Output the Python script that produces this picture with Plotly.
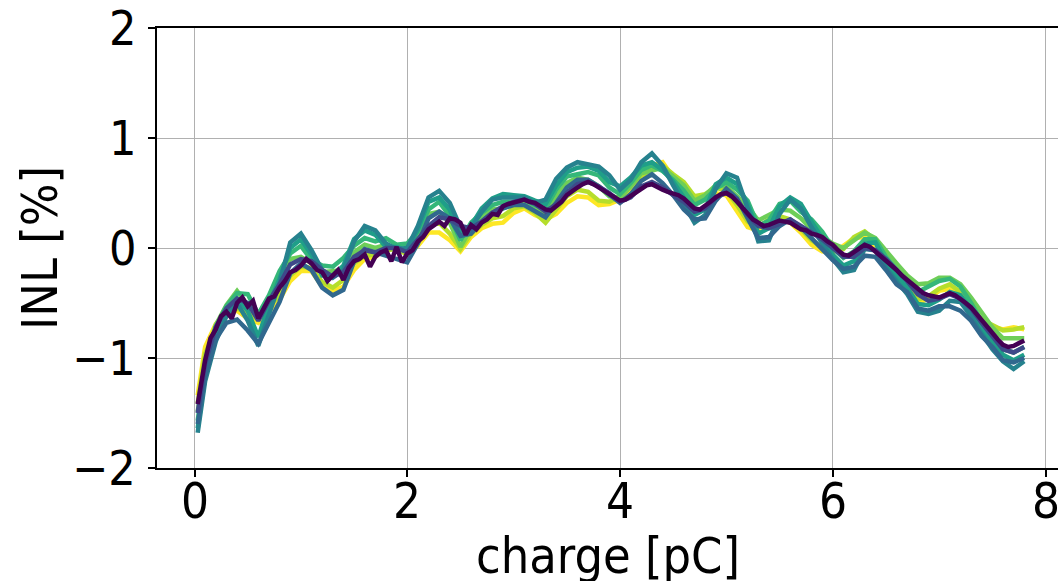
import plotly.graph_objects as go

charge = [0.03, 0.06, 0.1, 0.2, 0.3, 0.4, 0.5, 0.6, 0.7, 0.8,
          0.9, 1.0, 1.1, 1.2, 1.3, 1.4, 1.5, 1.6, 1.7, 1.8,
          1.9, 2.0, 2.1, 2.2, 2.3, 2.4, 2.5, 2.6, 2.7, 2.8,
          2.9, 3.0, 3.1, 3.2, 3.3, 3.4, 3.5, 3.6, 3.7, 3.8,
          3.9, 4.0, 4.1, 4.2, 4.3, 4.4, 4.5, 4.6, 4.7, 4.8,
          4.9, 5.0, 5.1, 5.2, 5.3, 5.4, 5.5, 5.6, 5.7, 5.8,
          5.9, 6.0, 6.1, 6.2, 6.3, 6.4, 6.5, 6.6, 6.7, 6.8,
          6.9, 7.0, 7.1, 7.2, 7.3, 7.4, 7.5, 7.6, 7.7, 7.8]

inl_yellow = [-1.34, -1.12, -0.9, -0.69, -0.58, -0.57, -0.64, -0.68, -0.57, -0.47,
              -0.3, -0.21, -0.21, -0.35, -0.39, -0.35, -0.2, -0.1, -0.08, 0.0,
              0.02, -0.05, 0.02, 0.14, 0.14, 0.07, -0.03, 0.1, 0.18, 0.22,
              0.23, 0.32, 0.36, 0.3, 0.26, 0.31, 0.41, 0.47, 0.46, 0.39,
              0.4, 0.44, 0.53, 0.64, 0.75, 0.78, 0.64, 0.56, 0.44, 0.45,
              0.5, 0.48, 0.34, 0.19, 0.16, 0.23, 0.26, 0.23, 0.14, 0.03,
              -0.03, -0.04, 0.02, 0.09, 0.1, -0.02, -0.18, -0.3, -0.41, -0.5,
              -0.46, -0.39, -0.37, -0.44, -0.58, -0.69, -0.72, -0.74, -0.72, -0.74]

inl_yellowgreen = [-1.41, -1.22, -0.96, -0.75, -0.62, -0.55, -0.59, -0.65, -0.53, -0.43,
                   -0.25, -0.17, -0.18, -0.31, -0.36, -0.29, -0.14, -0.07, -0.06, -0.02,
                   -0.01, -0.06, 0.07, 0.2, 0.23, 0.13, -0.01, 0.13, 0.21, 0.27,
                   0.29, 0.36, 0.38, 0.32, 0.23, 0.35, 0.47, 0.53, 0.51, 0.43,
                   0.42, 0.47, 0.56, 0.66, 0.71, 0.75, 0.67, 0.6, 0.47, 0.49,
                   0.55, 0.52, 0.39, 0.24, 0.19, 0.26, 0.29, 0.26, 0.17, 0.07,
                   0.01, -0.02, -0.01, 0.1, 0.15, 0.07, -0.1, -0.23, -0.35, -0.47,
                   -0.44, -0.37, -0.33, -0.4, -0.53, -0.65, -0.7, -0.75, -0.74, -0.72]

inl_lightgreen = [-1.49, -1.28, -1.03, -0.7, -0.52, -0.39, -0.52, -0.62, -0.47, -0.3,
                  -0.1, -0.08, -0.14, -0.22, -0.21, -0.2, -0.04, 0.03, 0.0, 0.03,
                  -0.02, -0.02, 0.12, 0.31, 0.33, 0.23, 0.01, 0.18, 0.29, 0.35,
                  0.36, 0.4, 0.42, 0.35, 0.29, 0.47, 0.59, 0.64, 0.62, 0.56,
                  0.47, 0.46, 0.56, 0.68, 0.71, 0.73, 0.65, 0.57, 0.43, 0.48,
                  0.57, 0.56, 0.47, 0.38, 0.25, 0.3, 0.35, 0.34, 0.27, 0.17,
                  0.1, 0.04, 0.0, 0.07, 0.14, 0.09, -0.03, -0.14, -0.25, -0.33,
                  -0.32, -0.27, -0.27, -0.33, -0.45, -0.59, -0.72, -0.82, -0.82, -0.82]

inl_green = [-1.57, -1.36, -1.08, -0.72, -0.53, -0.41, -0.42, -0.6, -0.43, -0.21,
             -0.05, 0.02, -0.11, -0.16, -0.17, -0.09, 0.02, 0.09, 0.06, 0.09,
             0.03, 0.04, 0.15, 0.35, 0.42, 0.29, 0.07, 0.23, 0.32, 0.39,
             0.42, 0.42, 0.44, 0.39, 0.36, 0.53, 0.65, 0.67, 0.69, 0.66,
             0.55, 0.49, 0.59, 0.71, 0.75, 0.7, 0.62, 0.52, 0.39, 0.44,
             0.54, 0.6, 0.53, 0.43, 0.2, 0.25, 0.4, 0.43, 0.33, 0.26,
             0.15, 0.0, -0.09, -0.03, 0.08, 0.08, -0.08, -0.2, -0.31, -0.4,
             -0.35, -0.3, -0.28, -0.35, -0.5, -0.67, -0.8, -0.92, -0.95, -0.9]

inl_tealgreen = [-1.64, -1.44, -1.17, -0.8, -0.58, -0.46, -0.57, -0.81, -0.51, -0.28,
                 0.0, 0.08, -0.06, -0.25, -0.25, -0.16, 0.08, 0.16, 0.12, 0.01,
                 0.01, -0.02, 0.17, 0.42, 0.46, 0.35, 0.13, 0.2, 0.36, 0.45,
                 0.49, 0.48, 0.47, 0.43, 0.4, 0.57, 0.69, 0.73, 0.74, 0.7,
                 0.6, 0.56, 0.64, 0.75, 0.78, 0.71, 0.6, 0.46, 0.3, 0.35,
                 0.58, 0.64, 0.58, 0.4, 0.13, 0.18, 0.38, 0.46, 0.4, 0.24,
                 0.09, -0.06, -0.16, -0.12, 0.04, 0.05, -0.13, -0.25, -0.36, -0.51,
                 -0.52, -0.47, -0.4, -0.43, -0.56, -0.73, -0.85, -0.97, -1.02, -0.97]

inl_teal = [-1.68, -1.48, -1.21, -0.85, -0.62, -0.5, -0.66, -0.89, -0.59, -0.32,
            0.05, 0.13, -0.02, -0.2, -0.27, -0.2, 0.06, 0.2, 0.16, 0.04,
            -0.01, 0.0, 0.2, 0.46, 0.52, 0.41, 0.19, 0.18, 0.33, 0.44,
            0.46, 0.46, 0.46, 0.41, 0.44, 0.63, 0.73, 0.78, 0.76, 0.74,
            0.66, 0.53, 0.62, 0.78, 0.86, 0.75, 0.57, 0.4, 0.23, 0.3,
            0.54, 0.68, 0.64, 0.36, 0.06, 0.07, 0.31, 0.44, 0.36, 0.19,
            0.04, -0.1, -0.22, -0.2, -0.01, -0.02, -0.18, -0.3, -0.42, -0.58,
            -0.6, -0.57, -0.48, -0.49, -0.62, -0.78, -0.92, -1.03, -1.1, -1.03]

inl_blue = [-1.6, -1.4, -1.17, -0.83, -0.68, -0.65, -0.75, -0.87, -0.68, -0.49,
            -0.23, -0.14, -0.2, -0.36, -0.43, -0.38, -0.12, -0.01, -0.04, -0.07,
            -0.09, -0.13, 0.04, 0.27, 0.33, 0.27, 0.11, 0.13, 0.24, 0.32,
            0.36, 0.39, 0.39, 0.34, 0.28, 0.41, 0.55, 0.62, 0.62, 0.56,
            0.49, 0.41, 0.49, 0.61, 0.67, 0.59, 0.48, 0.35, 0.26, 0.27,
            0.43, 0.54, 0.45, 0.27, 0.09, 0.1, 0.2, 0.26, 0.19, 0.09,
            -0.01, -0.11, -0.19, -0.17, -0.07, -0.08, -0.2, -0.33, -0.4, -0.55,
            -0.57, -0.53, -0.53, -0.57, -0.66, -0.8, -0.9, -1.02, -1.04, -1.0]

inl_indigo = [-1.5, -1.3, -1.05, -0.72, -0.55, -0.46, -0.5, -0.66, -0.48, -0.33,
              -0.15, -0.1, -0.12, -0.2, -0.26, -0.22, -0.08, -0.02, -0.04, 0.0,
              0.0, -0.04, 0.08, 0.2, 0.28, 0.26, 0.2, 0.18, 0.24, 0.32,
              0.38, 0.42, 0.44, 0.4, 0.33, 0.4, 0.5, 0.58, 0.6, 0.56,
              0.5, 0.42, 0.46, 0.56, 0.6, 0.55, 0.48, 0.42, 0.33, 0.36,
              0.46, 0.5, 0.44, 0.3, 0.2, 0.18, 0.22, 0.26, 0.2, 0.14,
              0.08, 0.0, -0.08, -0.08, 0.0, -0.02, -0.1, -0.2, -0.3, -0.42,
              -0.48, -0.46, -0.42, -0.46, -0.55, -0.68, -0.8, -0.92, -0.95, -0.9]

# dark purple curve, read on a finer grid (charge, INL)
purple_points = [
    (0.03, -1.42), (0.06, -1.22), (0.1, -1.02), (0.15, -0.82), (0.2, -0.74), (0.25, -0.62), (0.3, -0.58), (0.35, -0.64),
    (0.4, -0.5), (0.45, -0.45), (0.5, -0.53), (0.55, -0.48), (0.6, -0.64), (0.65, -0.55), (0.7, -0.46), (0.75, -0.44),
    (0.8, -0.36), (0.85, -0.3), (0.9, -0.22), (0.95, -0.2), (1.0, -0.16), (1.05, -0.1), (1.1, -0.14), (1.15, -0.2),
    (1.2, -0.22), (1.25, -0.3), (1.3, -0.25), (1.35, -0.2), (1.4, -0.29), (1.45, -0.18), (1.5, -0.12), (1.55, -0.1),
    (1.6, -0.06), (1.65, -0.17), (1.7, -0.08), (1.75, -0.04), (1.8, -0.02), (1.85, -0.12), (1.9, 0.01), (1.95, -0.13),
    (2.0, -0.05), (2.05, -0.02), (2.1, 0.06), (2.15, 0.1), (2.2, 0.17), (2.25, 0.2), (2.3, 0.24), (2.35, 0.2),
    (2.4, 0.27), (2.45, 0.26), (2.5, 0.23), (2.55, 0.12), (2.6, 0.21), (2.65, 0.17), (2.7, 0.23), (2.75, 0.26),
    (2.8, 0.31), (2.85, 0.3), (2.9, 0.38), (2.95, 0.4), (3.0, 0.41), (3.05, 0.43), (3.1, 0.44), (3.15, 0.42),
    (3.2, 0.41), (3.25, 0.38), (3.3, 0.35), (3.35, 0.34), (3.4, 0.38), (3.45, 0.42), (3.5, 0.48), (3.55, 0.52),
    (3.6, 0.55), (3.65, 0.58), (3.7, 0.6), (3.75, 0.58), (3.8, 0.55), (3.85, 0.53), (3.9, 0.5), (3.95, 0.46),
    (4.0, 0.43), (4.05, 0.44), (4.1, 0.47), (4.15, 0.5), (4.2, 0.54), (4.25, 0.57), (4.3, 0.58), (4.35, 0.55),
    (4.4, 0.53), (4.45, 0.51), (4.5, 0.5), (4.55, 0.48), (4.6, 0.45), (4.65, 0.4), (4.7, 0.36), (4.75, 0.35),
    (4.8, 0.38), (4.85, 0.42), (4.9, 0.46), (4.95, 0.49), (5.0, 0.5), (5.05, 0.47), (5.1, 0.42), (5.15, 0.37),
    (5.2, 0.31), (5.25, 0.26), (5.3, 0.23), (5.35, 0.2), (5.4, 0.21), (5.45, 0.23), (5.5, 0.25), (5.55, 0.24),
    (5.6, 0.23), (5.65, 0.2), (5.7, 0.17), (5.75, 0.16), (5.8, 0.13), (5.85, 0.12), (5.9, 0.1), (5.95, 0.06),
    (6.0, 0.03), (6.05, -0.02), (6.1, -0.06), (6.15, -0.07), (6.2, -0.04), (6.25, 0.0), (6.3, 0.03), (6.35, 0.01),
    (6.4, -0.03), (6.45, -0.08), (6.5, -0.12), (6.55, -0.16), (6.6, -0.2), (6.65, -0.25), (6.7, -0.29), (6.75, -0.33),
    (6.8, -0.38), (6.85, -0.41), (6.9, -0.43), (6.95, -0.44), (7.0, -0.45), (7.05, -0.43), (7.1, -0.41), (7.15, -0.43),
    (7.2, -0.46), (7.25, -0.5), (7.3, -0.54), (7.35, -0.6), (7.4, -0.65), (7.45, -0.71), (7.5, -0.77), (7.55, -0.83),
    (7.6, -0.88), (7.65, -0.9), (7.7, -0.89), (7.75, -0.86), (7.8, -0.84),
]

series = [
    (charge, inl_yellow, "#fde725"),
    (charge, inl_yellowgreen, "#b5de2b"),
    (charge, inl_lightgreen, "#6ece58"),
    (charge, inl_green, "#35b779"),
    (charge, inl_tealgreen, "#1f9e89"),
    (charge, inl_teal, "#26828e"),
    (charge, inl_blue, "#31688e"),
    (charge, inl_indigo, "#3e4989"),
    ([p[0] for p in purple_points], [p[1] for p in purple_points], "#440154"),
]

x_ticks = [0, 2, 4, 6, 8]
x_ticklabels = ["0", "2", "4", "6", "8"]
y_ticks = [-2, -1, 0, 1, 2]
y_ticklabels = ["\u22122", "\u22121", "0", "1", "2"]

FONT = "DejaVu Sans Condensed, DejaVu Sans, sans-serif"

fig = go.Figure()
for xs, vals, col in series:
    fig.add_trace(go.Scatter(x=xs, y=vals, mode="lines",
                             line=dict(color=col, width=4.5), showlegend=False))

axis_common = dict(
    showgrid=True, gridcolor="#b0b0b0", gridwidth=1.3,
    zeroline=False, showline=True, linecolor="black", linewidth=1.8,
    ticks="outside", ticklen=7, tickwidth=1.5, tickcolor="black",
    showticklabels=False,
)

annotations = [
    dict(text=lab, xref="x", yref="paper", x=t, y=(468 - 502) / 440,
         xanchor="center", yanchor="middle", showarrow=False,
         font=dict(family=FONT, size=49, color="black"))
    for t, lab in zip(x_ticks, x_ticklabels)
]
annotations += [
    dict(text=lab, xref="paper", yref="y", x=(138 - 157) / 901, y=t,
         xanchor="right", yanchor="middle", showarrow=False,
         font=dict(family=FONT, size=48, color="black"))
    for t, lab in zip(y_ticks, y_ticklabels)
]
annotations += [
    dict(text="charge [pC]", xref="paper", yref="paper",
         x=0.5, y=(468 - 556) / 440, xanchor="center", yanchor="middle",
         showarrow=False, font=dict(family=FONT, size=50, color="black")),
    dict(text="INL [%]", xref="paper", yref="paper",
         x=(40 - 157) / 901, y=0.5, xanchor="center", yanchor="middle",
         textangle=-90, showarrow=False,
         font=dict(family=FONT, size=50, color="black")),
]

fig.update_layout(
    width=1058, height=581,
    margin=dict(l=157, r=0, t=28, b=113),
    paper_bgcolor="white", plot_bgcolor="white",
    xaxis=dict(range=[-0.3525, 8.1175], tickvals=x_ticks, mirror=True, **axis_common),
    yaxis=dict(range=[-2, 2], tickvals=y_ticks, **axis_common),
    annotations=annotations,
)

fig.write_html("out.html")
